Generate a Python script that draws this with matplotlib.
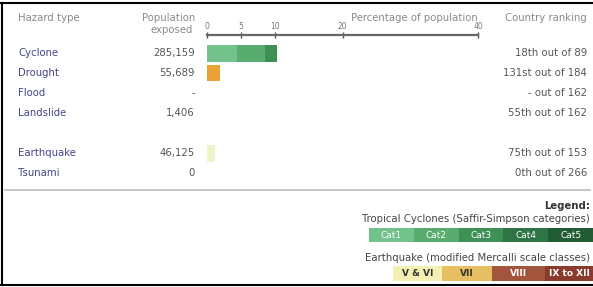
import matplotlib
matplotlib.use("Agg")
import matplotlib.pyplot as plt
import matplotlib.transforms as mtransforms

# data
hazards = ["Cyclone", "Drought", "Flood", "Landslide", "Earthquake", "Tsunami"]
row_pos = [0, 1, 2, 3, 5, 6]
exposed = ["285,159", "55,689", "-", "1,406", "46,125", "0"]
ranking = ["18th out of 89", "131st out of 184", "- out of 162",
           "55th out of 162", "75th out of 153", "0th out of 266"]

cyclone_cats = ["Cat1", "Cat2", "Cat3", "Cat4", "Cat5"]
cyclone_pct = [4.5, 4.0, 1.9, 0, 0]
drought_pct = 1.9
quake_pct = 1.2
pct_ticks = [0, 5, 10, 20, 40]

quake_classes = ["V & VI", "VII", "VIII", "IX to XII"]

cyc_colors = ["#74c28b", "#58ad6e", "#3e9056", "#2e7444", "#215c34"]
quake_colors = ["#f4f0b4", "#e6bf62", "#a2543c", "#8b3b2b"]
drought_color = "#e9a234"
quake_bar_color = "#eef4c9"

W, H = 593, 287
fig = plt.figure(figsize=(W / 100, H / 100), dpi=100)
fig.patch.set_facecolor("white")

bg = fig.add_axes([0, 0, 1, 1])
bg.set_xlim(0, W)
bg.set_ylim(H, 0)
bg.axis("off")

# bar axes: x = percent, y = row positions
x0, x1 = 207, 478
y0, y1 = 23, 183
ax = fig.add_axes([x0 / W, 1 - y1 / H, (x1 - x0) / W, (y1 - y0) / H])
ax.set_xlim(0, 40)
ax.set_ylim(6.5, -1.5)
ax.patch.set_alpha(0)
for s in ["left", "right", "bottom"]:
    ax.spines[s].set_visible(False)
ax.spines["top"].set_position(("data", -0.9))
ax.spines["top"].set_color("#666666")
ax.spines["top"].set_linewidth(1.6)
ax.xaxis.tick_top()
ax.set_xticks(pct_ticks)
ax.set_xticklabels([str(t) for t in pct_ticks])
ax.tick_params(axis="x", direction="inout", length=4, width=1, color="#555555",
               labelsize=5.5, labelcolor="#777777", pad=1)
ax.set_yticks([])

left = 0
for c, v in zip(cyc_colors, cyclone_pct):
    ax.barh(row_pos[0], v, left=left, height=0.85, color=c)
    left += v
ax.barh(row_pos[1], drought_pct, height=0.8, color=drought_color)
ax.barh(row_pos[4], quake_pct, height=0.85, color=quake_bar_color)

# text columns
tr = mtransforms.blended_transform_factory(bg.transData, ax.transData)
fs = 7.3
hdr = "#8a8a8a"
bg.text(18, 18, "Hazard type", fontsize=fs, color=hdr, va="center")
bg.text(195, 18, "Population", fontsize=fs, color=hdr, va="center", ha="right")
bg.text(193, 30, "exposed", fontsize=fs, color=hdr, va="center", ha="right")
bg.text(478, 18, "Percentage of population", fontsize=fs, color=hdr, va="center", ha="right")
bg.text(587, 18, "Country ranking", fontsize=fs, color=hdr, va="center", ha="right")

for name, p, e, r in zip(hazards, row_pos, exposed, ranking):
    bg.text(18, p, name, transform=tr, fontsize=fs, color="#43438a", va="center")
    bg.text(195, p, e, transform=tr, fontsize=fs, color="#555555", va="center", ha="right")
    bg.text(587, p, r, transform=tr, fontsize=fs, color="#555555", va="center", ha="right")

# frame lines
bg.plot([0, W], [3, 3], color="black", lw=1.5)
bg.plot([2, 2], [3, 285], color="black", lw=1.5)
bg.plot([0, W], [285, 285], color="black", lw=1.5)
bg.plot([5, 590], [190, 190], color="#bbbbbb", lw=1.2)

# legend
bg.text(590, 206, "Legend:", fontsize=fs, color="#333333", fontweight="bold", ha="right", va="center")
bg.text(590, 219, "Tropical Cyclones (Saffir-Simpson categories)", fontsize=fs,
        color="#444444", ha="right", va="center")
seg = (593 - 369) / len(cyclone_cats)
for i, (lab, c) in enumerate(zip(cyclone_cats, cyc_colors)):
    bg.barh(235, seg, left=369 + i * seg, height=14, color=c)
    bg.text(369 + (i + 0.5) * seg, 235, lab, fontsize=6.5, color="white", ha="center", va="center")

bg.text(590, 258, "Earthquake (modified Mercalli scale classes)", fontsize=fs,
        color="#444444", ha="right", va="center")
q_edges = [393, 442, 492, 545, 593]
q_txt = ["#333333", "#333333", "white", "white"]
for i, (lab, c) in enumerate(zip(quake_classes, quake_colors)):
    bg.barh(273, q_edges[i + 1] - q_edges[i], left=q_edges[i], height=15, color=c)
    bg.text((q_edges[i] + q_edges[i + 1]) / 2, 273, lab, fontsize=6.5, color=q_txt[i],
            ha="center", va="center", fontweight="bold")

fig.savefig("out.png", dpi=100)
